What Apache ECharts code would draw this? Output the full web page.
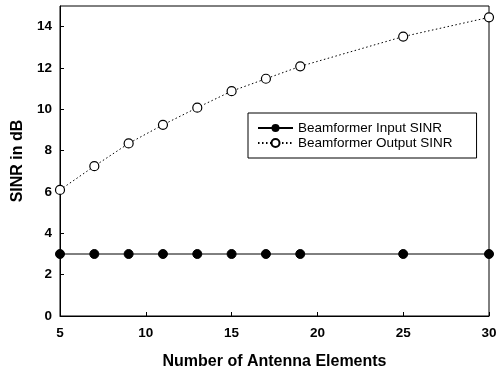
<!DOCTYPE html>
<html>
<head>
<meta charset="utf-8">
<script src="https://cdn.jsdelivr.net/npm/echarts@6/dist/echarts.min.js"></script>
<style>
  html, body { margin: 0; padding: 0; background: #fff; }
  #chart { width: 496px; height: 372px; }
</style>
</head>
<body>
<div id="chart"></div>
<script>
var elements = [5, 7, 9, 11, 13, 15, 17, 19, 25, 30];
var inputSinr = [3, 3, 3, 3, 3, 3, 3, 3, 3, 3];
var outputSinr = [6.1, 7.25, 8.35, 9.25, 10.08, 10.88, 11.48, 12.08, 13.52, 14.45];

function pairs(xs, ys) {
  var out = [];
  for (var i = 0; i < xs.length; i++) {
    out.push([xs[i], ys[i]]);
  }
  return out;
}

var font = 'Liberation Sans, Arial, sans-serif';

var option = {
  backgroundColor: '#fff',
  animation: false,
  grid: {
    left: 60,
    right: 7,
    top: 6,
    bottom: 56,
    outerBoundsMode: 'none',
    show: true,
    borderColor: '#000',
    borderWidth: 1
  },
  legend: {
    orient: 'vertical',
    left: 248,
    top: 113,
    padding: [8, 24, 8, 9],
    itemGap: 1,
    itemWidth: 35,
    itemHeight: 10,
    borderColor: '#000',
    borderWidth: 1,
    borderRadius: 0,
    backgroundColor: '#fff',
    textStyle: { fontFamily: font, fontSize: 13.5, color: '#000' },
    data: ['Beamformer Input SINR', 'Beamformer Output SINR']
  },
  xAxis: {
    type: 'value',
    min: 5,
    max: 30,
    interval: 5,
    name: 'Number of Antenna Elements',
    nameLocation: 'middle',
    nameGap: 38,
    nameTextStyle: { fontFamily: font, fontSize: 16, fontWeight: 'bold', color: '#000' },
    axisLine: { lineStyle: { color: '#000', width: 1 } },
    axisTick: { inside: true, length: 4, lineStyle: { color: '#000' } },
    axisLabel: { fontFamily: font, fontSize: 13.5, fontWeight: 'bold', color: '#000', margin: 10 },
    splitLine: { show: false }
  },
  yAxis: {
    type: 'value',
    min: 0,
    max: 15,
    interval: 2,
    name: 'SINR in dB',
    nameLocation: 'middle',
    nameGap: 34,
    nameTextStyle: { fontFamily: font, fontSize: 16, fontWeight: 'bold', color: '#000' },
    axisLine: { show: true, lineStyle: { color: '#000', width: 1 } },
    axisTick: { show: true, inside: true, length: 4, lineStyle: { color: '#000' } },
    axisLabel: { fontFamily: font, fontSize: 13.5, fontWeight: 'bold', color: '#000', margin: 8, showMaxLabel: false },
    splitLine: { show: false }
  },
  series: [{
    name: 'Beamformer Input SINR',
    type: 'line',
    data: pairs(elements, inputSinr),
    symbol: 'circle',
    symbolSize: 9,
    itemStyle: { color: '#000', borderColor: '#000' },
    lineStyle: { color: '#000', width: 1 }
  }, {
    name: 'Beamformer Output SINR',
    type: 'line',
    data: pairs(elements, outputSinr),
    symbol: 'circle',
    symbolSize: 9,
    itemStyle: { color: '#fff', borderColor: '#000', borderWidth: 1.2 },
    lineStyle: { color: '#000', width: 1, type: [1.5, 2.5] }
  }]
};

var myChart = echarts.init(document.getElementById('chart'));
myChart.setOption(option);
</script>
</body>
</html>
